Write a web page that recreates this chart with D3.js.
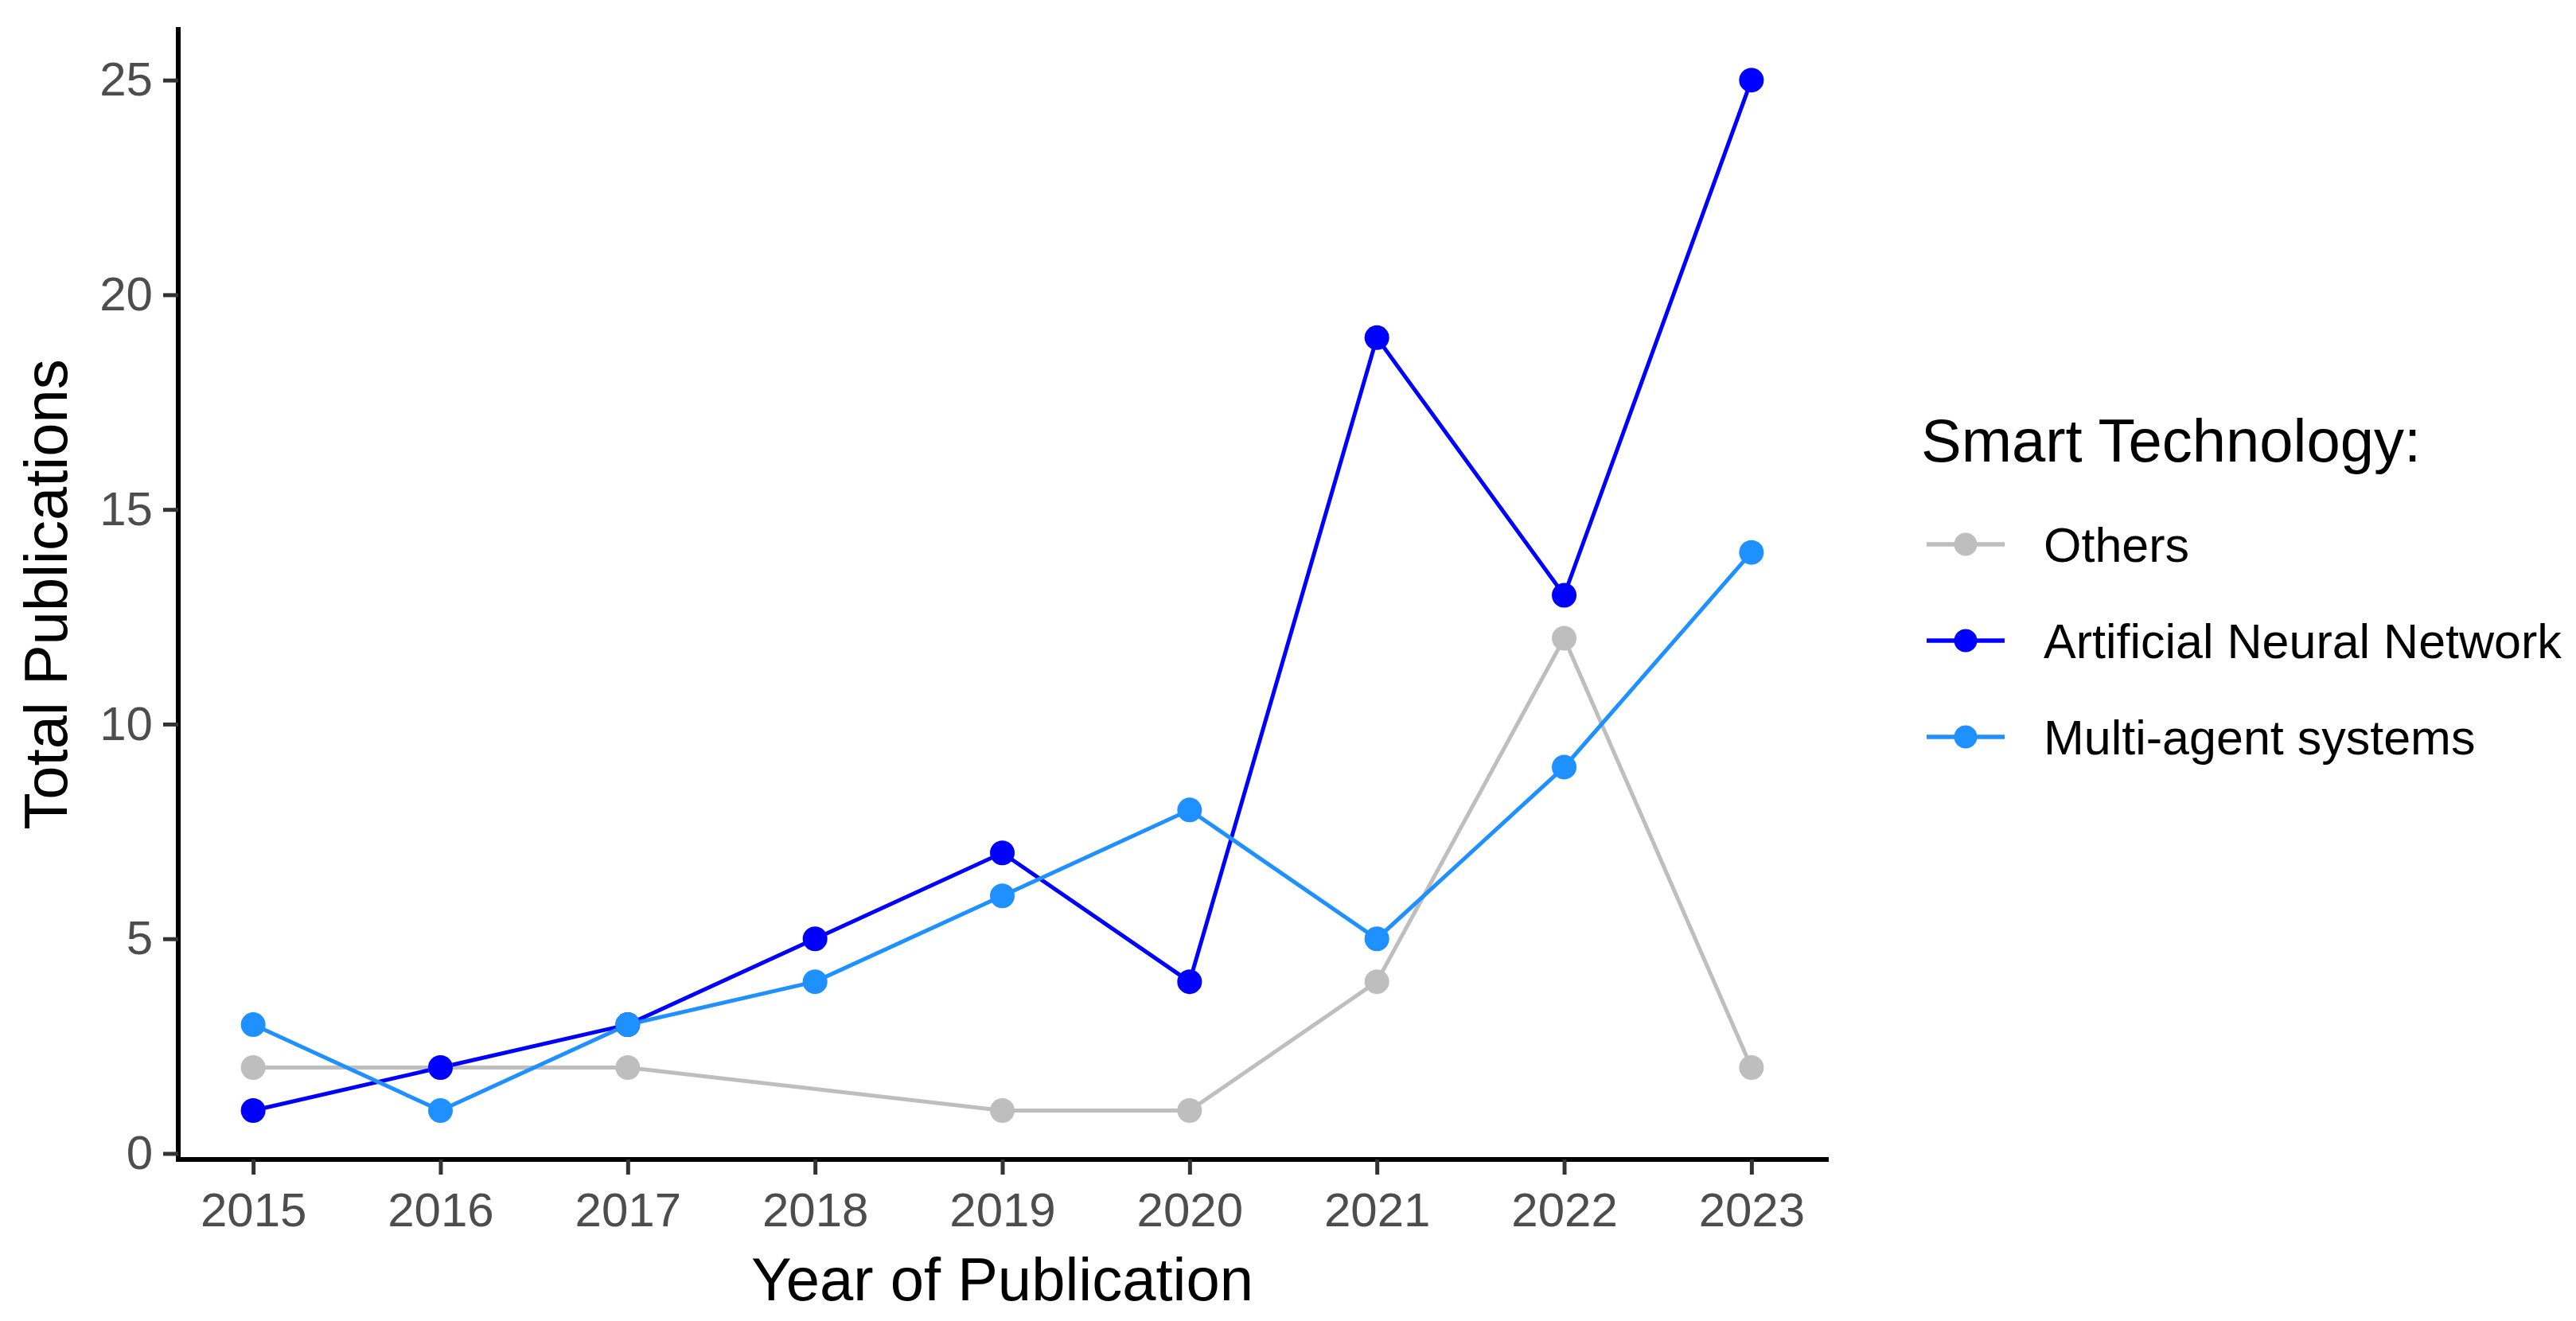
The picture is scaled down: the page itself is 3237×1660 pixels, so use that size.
<!DOCTYPE html>
<html>
<head>
<meta charset="utf-8">
<script src="https://cdn.jsdelivr.net/npm/d3@7/dist/d3.min.js"></script>
<style>
  body { margin: 0; background: #ffffff; }
  svg { display: block; font-family: "Liberation Sans", Arial, sans-serif; }
</style>
</head>
<body>
<div id="chart"><svg></svg></div>
<script>
// years on the x axis
var years = [2015, 2016, 2017, 2018, 2019, 2020, 2021, 2022, 2023];

// publication counts per year (null = no point that year)
var others = [2, 2, 2, null, 1, 1, 4, 12, 2];
var ann    = [1, 2, 3, 5, 7, 4, 19, 13, 25];
var mas    = [3, 1, 3, 4, 6, 8, 5, 9, 14];

var seriesNames  = ["Others", "Artificial Neural Network", "Multi-agent systems"];
var seriesColors = ["#bebebe", "#0000ff", "#1e90ff"];
var yTicks = [0, 5, 10, 15, 20, 25];

var width = 3237, height = 1660;
var panel = { left: 224, right: 2295, top: 37, bottom: 1457 };

var svg = d3.select("#chart svg").attr("width", width).attr("height", height);

var x = d3.scaleLinear().domain([2014.6, 2023.4]).range([panel.left, panel.right]);
var y = d3.scaleLinear().domain([-0.14, 26.18]).range([panel.bottom, panel.top]);

// build one table per series, dropping the missing years so the line joins across them
var seriesValues = [others, ann, mas];
var series = seriesNames.map(function(name, i) {
  var pts = [];
  years.forEach(function(yr, j) {
    if (seriesValues[i][j] !== null) pts.push({ year: yr, value: seriesValues[i][j] });
  });
  return { name: name, color: seriesColors[i], points: pts };
});

/********** AXES **********/

var xAxis = d3.axisBottom(x).tickValues(years).tickFormat(d3.format("d"))
  .tickSize(19).tickSizeOuter(0).tickPadding(22);
var yAxis = d3.axisLeft(y).tickValues(yTicks)
  .tickSize(19).tickSizeOuter(0).tickPadding(13);

var gx = svg.append("g").attr("transform", "translate(0," + panel.bottom + ")").call(xAxis);
var gy = svg.append("g").attr("transform", "translate(" + panel.left + ",0)").call(yAxis);

[gx, gy].forEach(function(g) {
  g.select(".domain").attr("stroke", "#000000").attr("stroke-width", 6).attr("stroke-linecap", "square");
  g.selectAll(".tick line").attr("stroke", "#333333").attr("stroke-width", 5);
  g.selectAll(".tick text").attr("fill", "#4d4d4d").style("font-size", "60px")
    .style("font-family", "Liberation Sans, Arial, sans-serif");
});

// the domain path spans the scale range; ggplot axis lines span the whole panel
gx.select(".domain").attr("d", "M" + panel.left + ",0H" + panel.right);
gy.select(".domain").attr("d", "M0," + panel.top + "V" + panel.bottom);

svg.append("text")
  .attr("x", (panel.left + panel.right) / 2)
  .attr("y", 1634)
  .attr("text-anchor", "middle")
  .style("font-size", "76px")
  .attr("fill", "#000000")
  .text("Year of Publication");

svg.append("text")
  .attr("transform", "translate(84," + (panel.top + panel.bottom) / 2 + ") rotate(-90)")
  .attr("text-anchor", "middle")
  .style("font-size", "76px")
  .attr("fill", "#000000")
  .text("Total Publications");

/********** LINES AND POINTS **********/

var line = d3.line()
  .x(function(d) { return x(d.year); })
  .y(function(d) { return y(d.value); });

// all lines first, then all points, like ggplot layers
svg.append("g").selectAll("path")
  .data(series)
  .enter().append("path")
    .attr("d", function(d) { return line(d.points); })
    .attr("fill", "none")
    .attr("stroke", function(d) { return d.color; })
    .attr("stroke-width", 5);

svg.append("g").selectAll("g")
  .data(series)
  .enter().append("g")
    .attr("fill", function(d) { return d.color; })
  .selectAll("circle")
  .data(function(d) { return d.points; })
  .enter().append("circle")
    .attr("cx", function(d) { return x(d.year); })
    .attr("cy", function(d) { return y(d.value); })
    .attr("r", 15.5);

/********** LEGEND **********/

var legend = svg.append("g");

legend.append("text")
  .attr("x", 2414)
  .attr("y", 580)
  .style("font-size", "76px")
  .attr("fill", "#000000")
  .text("Smart Technology:");

var rowY = d3.scalePoint().domain(seriesNames).range([684, 926]);

var rows = legend.selectAll("g.row")
  .data(series)
  .enter().append("g")
    .attr("class", "row")
    .attr("transform", function(d) { return "translate(0," + rowY(d.name) + ")"; });

rows.append("line")
  .attr("x1", 2421).attr("x2", 2519)
  .attr("stroke", function(d) { return d.color; })
  .attr("stroke-width", 5.5);

rows.append("circle")
  .attr("cx", 2470)
  .attr("r", 14.5)
  .attr("fill", function(d) { return d.color; });

rows.append("text")
  .attr("x", 2568)
  .attr("y", 22)
  .style("font-size", "61px")
  .attr("fill", "#000000")
  .text(function(d) { return d.name; });
</script>
</body>
</html>
